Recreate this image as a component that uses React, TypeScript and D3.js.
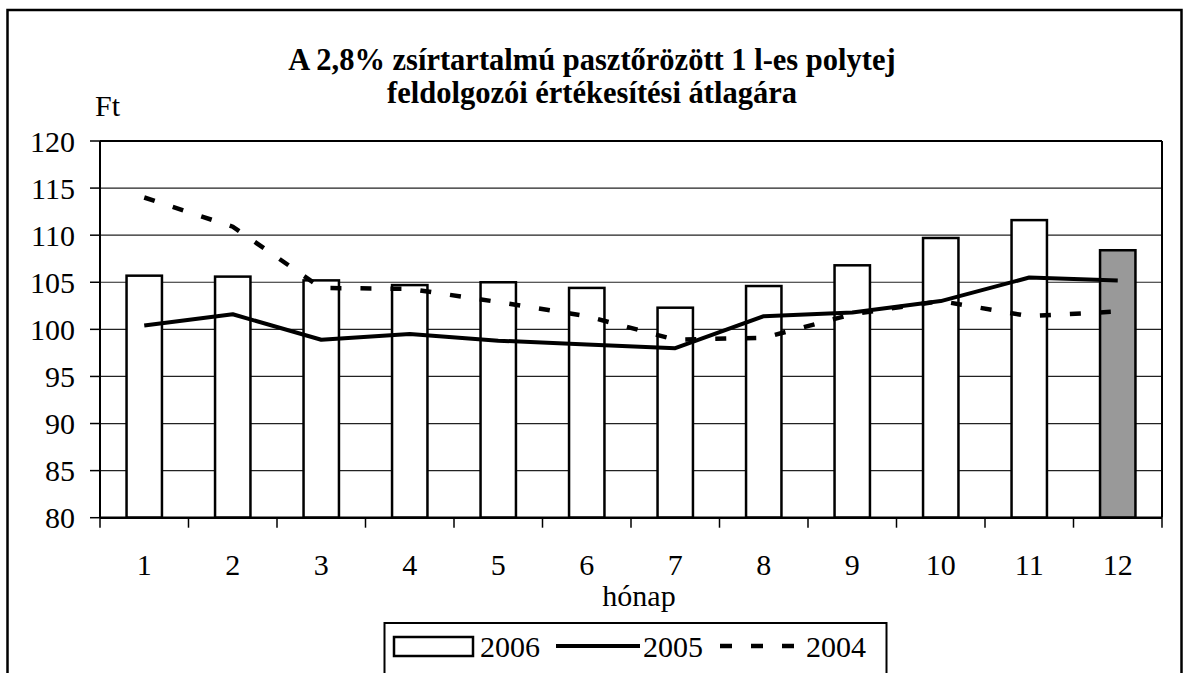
import React from "react";
import * as d3 from "d3";

const months = ["1", "2", "3", "4", "5", "6", "7", "8", "9", "10", "11", "12"];
const values2006 = [105.7, 105.6, 105.2, 104.7, 105.0, 104.4, 102.3, 104.6, 106.8, 109.7, 111.6, 108.4];
const values2005 = [100.4, 101.6, 98.9, 99.5, 98.8, 98.4, 98.0, 101.4, 101.8, 103.0, 105.5, 105.2];
const values2004 = [114.0, 110.9, 104.4, 104.3, 102.9, 101.4, 98.9, 99.1, 101.6, 103.0, 101.4, 101.9];
const yTicks = [80, 85, 90, 95, 100, 105, 110, 115, 120];
const titleLines = ["A 2,8% zsírtartalmú pasztőrözött 1 l-es polytej", "feldolgozói értékesítési átlagára"];
const legendLabels = ["2006", "2005", "2004"];

const W = 1186;
const H = 673;
const FONT = "'Liberation Serif', 'Times New Roman', serif";

export default function App() {
  const left = 100, right = 1162, top = 141, bottom = 517.7;
  const x = d3.scaleBand<string>().domain(months).range([left, right]).paddingInner(0.6).paddingOuter(0.3);
  const step = x.step();
  const bw = x.bandwidth();
  const y = d3.scaleLinear().domain([80, 120]).range([bottom, top]);
  const cx = (i: number) => (x(months[i]) as number) + bw / 2;
  const line = d3.line<number>().x((_, i) => cx(i)).y((v) => y(v));
  const boundaries = d3.range(months.length + 1).map((i) => left + i * step);

  return (
    <svg width={W} height={H} style={{ position: "absolute", left: 0, top: 0, background: "#fff" }} fontFamily={FONT}>
      <rect x={0} y={0} width={W} height={H} fill="#fff" />
      {/* outer frame */}
      <rect x={7.5} y={10} width={1174} height={700} fill="none" stroke="#000" strokeWidth={2.5} />
      {/* title */}
      {titleLines.map((t, i) => (
        <text key={i} x={592} y={70 + i * 33} textAnchor="middle" fontSize={30.5} fontWeight="bold" fontFamily={FONT} fill="#000">{t}</text>
      ))}
      <text x={95} y={115.5} fontSize={30} fontFamily={FONT} fill="#000">Ft</text>
      {/* gridlines */}
      {yTicks.filter((t) => t > 80 && t < 120).map((t) => (
        <line key={t} x1={left} x2={right} y1={y(t)} y2={y(t)} stroke="#222" strokeWidth={1.2} />
      ))}
      {/* plot border top/right */}
      <line x1={left} x2={right} y1={top} y2={top} stroke="#000" strokeWidth={2} />
      <line x1={right} x2={right} y1={top} y2={bottom} stroke="#000" strokeWidth={2} />
      {/* bars */}
      {values2006.map((v, i) => (
        <rect key={i} x={x(months[i])} y={y(v)} width={bw} height={y(80) - y(v)}
          fill={i === 11 ? "#999999" : "#fff"} stroke="#000" strokeWidth={2.5} />
      ))}
      {/* y axis */}
      <line x1={left} x2={left} y1={top} y2={bottom} stroke="#000" strokeWidth={2} />
      {yTicks.map((t) => (
        <g key={t}>
          <line x1={90} x2={left} y1={y(t)} y2={y(t)} stroke="#000" strokeWidth={1.5} />
          <text x={75} y={y(t)} dy="0.35em" textAnchor="end" fontSize={30} fontFamily={FONT} fill="#000">{t}</text>
        </g>
      ))}
      {/* x axis */}
      <line x1={left} x2={right} y1={bottom} y2={bottom} stroke="#000" strokeWidth={2.5} />
      {boundaries.map((b, i) => (
        <line key={i} x1={b} x2={b} y1={bottom} y2={bottom + 10} stroke="#000" strokeWidth={1.5} />
      ))}
      {months.map((m, i) => (
        <text key={m} x={cx(i)} y={575} textAnchor="middle" fontSize={30} fontFamily={FONT} fill="#000">{m}</text>
      ))}
      <text x={639} y={605.5} textAnchor="middle" fontSize={30} fontFamily={FONT} fill="#000">hónap</text>
      {/* lines */}
      <path d={line(values2005) as string} fill="none" stroke="#000" strokeWidth={4} strokeLinejoin="round" />
      <path d={line(values2004) as string} fill="none" stroke="#000" strokeWidth={4.5} strokeDasharray="11,19" />
      {/* legend */}
      <rect x={384.5} y={623} width={502} height={80} fill="#fff" stroke="#000" strokeWidth={2} />
      <rect x={394} y={637} width={79} height={19} fill="#fff" stroke="#000" strokeWidth={2.5} />
      <text x={480} y={656.5} fontSize={30} fontFamily={FONT} fill="#000">{legendLabels[0]}</text>
      <line x1={556} x2={640} y1={646} y2={646} stroke="#000" strokeWidth={4} />
      <text x={643} y={656.5} fontSize={30} fontFamily={FONT} fill="#000">{legendLabels[1]}</text>
      <line x1={720} x2={800} y1={646} y2={646} stroke="#000" strokeWidth={4.5} strokeDasharray="12,19" />
      <text x={806} y={656.5} fontSize={30} fontFamily={FONT} fill="#000">{legendLabels[2]}</text>
    </svg>
  );
}
